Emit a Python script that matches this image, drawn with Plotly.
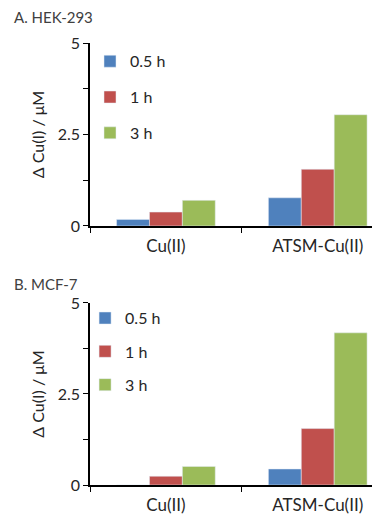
import plotly.graph_objects as go

categories = ["Cu(II)", "ATSM-Cu(II)"]
series_names = ["0.5 h", "1 h", "3 h"]
colors = ["#4F81BD", "#C0504D", "#9BBB59"]

hek_05 = [0.18, 0.77]
hek_1 = [0.38, 1.55]
hek_3 = [0.70, 3.04]

mcf_05 = [0.0, 0.44]
mcf_1 = [0.24, 1.55]
mcf_3 = [0.51, 4.18]

y_tickvals = [0, 1.25, 2.5, 3.75, 5]
y_ticktext = ["0", "", "2.5", "", "5"]

FONT = "Lato"
TXT = "#262626"

fig = go.Figure()
for name, vals, col in zip(series_names, [hek_05, hek_1, hek_3], colors):
    fig.add_trace(go.Bar(x=categories, y=vals, name=name, marker_color=col,
                         xaxis="x", yaxis="y", legend="legend", legendgroup="A" + name))
for name, vals, col in zip(series_names, [mcf_05, mcf_1, mcf_3], colors):
    fig.add_trace(go.Bar(x=categories, y=vals, name=name, marker_color=col,
                         xaxis="x2", yaxis="y2", legend="legend2", legendgroup="B" + name))

xax = dict(type="category", range=[-0.5, 1.41], showline=True, linecolor="#000",
           linewidth=1.5, ticks="outside", tickson="boundaries", ticklen=5,
           tickcolor="#000", tickfont=dict(size=17, color=TXT, family=FONT),
           ticklabelstandoff=4, automargin=False,
           showgrid=False, zeroline=False, fixedrange=True)
yax = dict(range=[0, 5], showline=True, linecolor="#000", linewidth=1.5,
           ticks="outside", ticklen=5, tickcolor="#000", tickvals=y_tickvals,
           ticktext=y_ticktext, tickfont=dict(size=16, color=TXT, family=FONT),
           showgrid=False, zeroline=False, automargin=False,
           title=dict(text="Δ Cu(I) / μM", font=dict(size=16, color=TXT, family=FONT), standoff=9))

leg = dict(xanchor="left", yanchor="top", bgcolor="rgba(0,0,0,0)",
           font=dict(size=16, color=TXT, family=FONT), traceorder="grouped")

W, H = 372, 509
L, T, B = 82, 35, 32
PH = H - T - B
PW = W - L

fig.update_layout(
    width=W, height=H,
    margin=dict(l=L, r=0, t=T, b=B, autoexpand=False),
    paper_bgcolor="white", plot_bgcolor="white",
    barmode="group", bargap=0.35, bargroupgap=0,
    font=dict(family=FONT, color=TXT),
    xaxis=dict(xax, anchor="y", domain=[0, 1]),
    yaxis=dict(yax, anchor="x", domain=[0.586, 1]),
    xaxis2=dict(xax, anchor="y2", domain=[0, 1]),
    yaxis2=dict(yax, anchor="x2", domain=[0, 0.4118]),
    legend=dict(leg, x=0.0, y=0.997, tracegroupgap=12),
    legend2=dict(leg, x=-0.017, y=0.416, tracegroupgap=9.5),
    annotations=[
        dict(text="A. HEK-293", xref="paper", yref="paper", x=-L/PW, y=(H - B - 9)/PH,
             xanchor="left", yanchor="middle", showarrow=False, xshift=4,
             font=dict(size=15, color="#404040", family=FONT)),
        dict(text="B. MCF-7", xref="paper", yref="paper", x=-L/PW, y=(H - B - 276)/PH,
             xanchor="left", yanchor="middle", showarrow=False, xshift=4,
             font=dict(size=15, color="#404040", family=FONT)),
    ],
)

fig.write_html("out.html")
